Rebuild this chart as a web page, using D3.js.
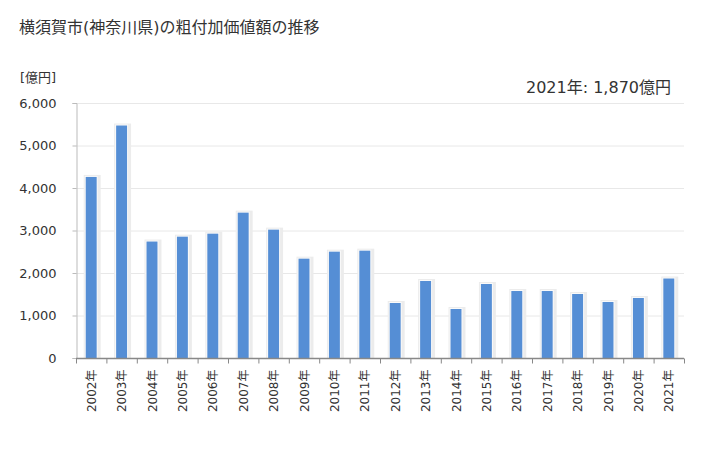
<!DOCTYPE html>
<html><head><meta charset="utf-8">
<script src="https://cdn.jsdelivr.net/npm/d3@7"></script>
<style>body{margin:0;background:#fff;} svg{display:block;font-family:"DejaVu Sans","Noto Sans CJK JP",sans-serif;}</style>
</head><body>
<script>
const years = ["2002年","2003年","2004年","2005年","2006年","2007年","2008年","2009年","2010年","2011年","2012年","2013年","2014年","2015年","2016年","2017年","2018年","2019年","2020年","2021年"];
const values = [4260,5470,2740,2855,2925,3420,3020,2337,2502,2525,1294,1812,1153,1741,1576,1576,1506,1318,1412,1870];
const yTicks = [0,1000,2000,3000,4000,5000,6000];
const title = "横須賀市(神奈川県)の粗付加価値額の推移";
const unit = "[億円]";
const note = "2021年: 1,870億円";

const W=728,H=450, L=76, R=684, T=103, B=358;
const svg=d3.select("body").append("svg").attr("width",W).attr("height",H);
const x=d3.scaleBand().domain(years).range([L,R]).paddingInner(0.64).paddingOuter(0.32);
const xb=d3.scaleBand().domain(years).range([L,R]);
const y=d3.scaleLinear().domain([0,6000]).range([B,T]);

svg.append("text").attr("x",19).attr("y",33).attr("font-size",16).attr("fill","#333").text(title);
svg.append("text").attr("x",20).attr("y",82).attr("font-size",13).attr("fill","#333").text(unit);
svg.append("text").attr("x",671).attr("y",93).attr("font-size",16).attr("text-anchor","end").attr("fill","#333").text(note);

// grid
svg.append("g").selectAll("line").data(yTicks.filter(d=>d>0)).join("line")
  .attr("x1",L).attr("x2",R).attr("y1",d=>y(d)+0.5).attr("y2",d=>y(d)+0.5)
  .attr("stroke","#e8e8e8").attr("stroke-width",1);

// y axis
const ya=svg.append("g").attr("transform",`translate(${L+0.5},0)`)
  .call(d3.axisLeft(y).tickValues(yTicks).tickFormat(d3.format(",")).tickSize(4).tickPadding(16));
ya.select(".domain").attr("stroke","#bbb");
ya.selectAll(".tick line").attr("stroke","#bbb");
ya.selectAll("text").attr("font-size",13).attr("fill","#333").attr("font-family","DejaVu Sans, sans-serif");

// shadows
svg.append("g").selectAll("rect").data(values).join("rect")
  .attr("x",(d,i)=>x(years[i])-2).attr("y",d=>y(d)-2).attr("width",x.bandwidth()+6).attr("height",d=>B-y(d)+2)
  .attr("fill","#ececec");
svg.append("g").selectAll("rect").data(values).join("rect")
  .attr("x",(d,i)=>x(years[i])-1).attr("y",d=>y(d)-1).attr("width",x.bandwidth()+2).attr("height",d=>B-y(d)+1)
  .attr("fill","#fafafa");
// bars
svg.append("g").selectAll("rect").data(values).join("rect")
  .attr("x",(d,i)=>x(years[i])).attr("y",d=>y(d)).attr("width",x.bandwidth()).attr("height",d=>B-y(d))
  .attr("fill","#558ed5");

// x axis
const xa=svg.append("g").attr("transform",`translate(0,${B+0.5})`);
xa.append("line").attr("x1",L).attr("x2",R).attr("stroke","#888").attr("stroke-width",1.5);
xa.selectAll("line.t").data(d3.range(years.length+1)).join("line").attr("class","t")
  .attr("x1",i=>L+i*xb.step()+0.5).attr("x2",i=>L+i*xb.step()+0.5).attr("y1",0).attr("y2",5).attr("stroke","#888");
xa.selectAll("text").data(years).join("text")
  .attr("transform",d=>`translate(${xb(d)+xb.bandwidth()/2+4.5},${11}) rotate(-90)`)
  .attr("text-anchor","end").attr("font-size",12).attr("fill","#333").text(d=>d);
</script>
</body></html>
